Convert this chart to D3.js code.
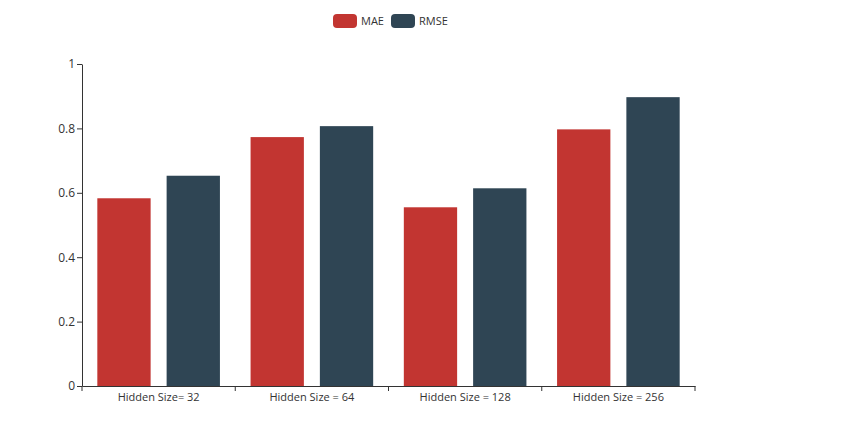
<!DOCTYPE html>
<html><head><meta charset="utf-8">
<script src="https://cdn.jsdelivr.net/npm/d3@7"></script>
<style>body{margin:0;background:#fff;} svg{display:block;}</style>
</head><body>
<svg id="c" width="843" height="422"></svg>
<script>
const categories = ["Hidden Size= 32", "Hidden Size = 64", "Hidden Size = 128", "Hidden Size = 256"];
const seriesNames = ["MAE", "RMSE"];
const maeValues = [0.583, 0.773, 0.555, 0.797];
const rmseValues = [0.653, 0.807, 0.614, 0.897];
const yTicks = [0, 0.2, 0.4, 0.6, 0.8, 1];
const colors = ["#c23531", "#2f4554"];

(function () {
const svg = d3.select("#c");
const mLeft = 82, mRight = 695, mTop = 64, mBottom = 386;
const font = "'Open Sans', 'Noto Sans', sans-serif";

const x0 = d3.scaleBand().domain(categories).range([mLeft, mRight]).padding(0);
const catW = x0.bandwidth();
const groupW = catW * 0.8;
const barW = groupW / 2.3;
const gapW = barW * 0.3;
const y = d3.scaleLinear().domain([0, 1]).range([mBottom, mTop]);

const data = [maeValues, rmseValues];

data.forEach((vals, si) => {
  svg.append("g").selectAll("rect").data(vals).join("rect")
    .attr("x", (d, i) => x0(categories[i]) + catW * 0.1 + si * (barW + gapW))
    .attr("y", d => y(d))
    .attr("width", barW)
    .attr("height", d => y(0) - y(d))
    .attr("fill", colors[si]);
});

const yAxis = d3.axisLeft(y).tickValues(yTicks).tickFormat(d => d3.format("~g")(d)).tickSize(5).tickSizeOuter(0);
const gy = svg.append("g").attr("transform", `translate(${mLeft},0)`).call(yAxis);
gy.select(".domain").attr("stroke", "#333");
gy.selectAll(".tick line").attr("stroke", "#333");
gy.selectAll(".tick text").attr("fill", "#333").attr("font-size", 12).attr("font-family", font).attr("x", -7);

const xAxis = d3.axisBottom(x0).tickSize(0).tickSizeOuter(0);
const gx = svg.append("g").attr("transform", `translate(0,${mBottom})`).call(xAxis);
gx.select(".domain").attr("stroke", "#333");
gx.selectAll(".tick text").attr("fill", "#333").attr("font-size", 11).attr("font-family", font).attr("dy", "0.71em").attr("y", 7);
const bounds = categories.map(c => x0(c)).concat([mRight]);
gx.selectAll(".bt").data(bounds).join("line").attr("class", "bt")
  .attr("x1", d => d).attr("x2", d => d).attr("y1", 0).attr("y2", 5).attr("stroke", "#333");

const leg = svg.append("g");
const legItems = [{name: seriesNames[0], x: 333}, {name: seriesNames[1], x: 391}];
legItems.forEach((it, i) => {
  leg.append("rect").attr("x", it.x).attr("y", 14).attr("width", 24).attr("height", 14).attr("rx", 4).attr("fill", colors[i]);
  leg.append("text").attr("x", it.x + 28).attr("y", 21).attr("dy", "0.35em").attr("font-size", 11)
    .attr("font-family", font).attr("fill", "#333").text(it.name);
});
})();
</script>
</body></html>
